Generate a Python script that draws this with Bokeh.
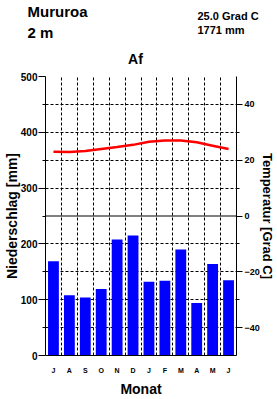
from bokeh.plotting import figure
from bokeh.models import Range1d, LinearAxis, FixedTicker, Span
from bokeh.layouts import column
from bokeh.core.properties import value
from bokeh.embed import file_html
from bokeh.resources import INLINE

months = ["J", "A", "S", "O", "N", "D", "J", "F", "M", "A", "M", "J"]
precip = [169, 108, 104, 119, 208, 215, 132, 134, 190, 94, 164, 135]
temp = [23.0, 22.9, 23.3, 24.0, 24.7, 25.5, 26.6, 27.1, 27.1, 26.4, 25.2, 24.0]
station = "Mururoa"
elevation = "2 m"
mean_temp_label = "25.0 Grad C"
total_precip_label = "1771 mm"
climate_class = "Af"
precip_ticks = [0, 100, 200, 300, 400, 500]
precip_minor = [50, 150, 250, 350, 450]
temp_ticks = [-40, -20, 0, 20, 40]
temp_minor = [-30, -10, 10, 30]
grid_lines = [50, 100, 150, 200, 300, 350, 400, 450, 500]
zero_temp_line = 250

FONT = "Liberation Sans"
W, H = 277, 399
HEAD = 66
L, R, T, B = 42, 41, 10, 43

xs = [i + 0.5 for i in range(len(months))]

# ---- header figure (texts placed in pixel coordinates) ----
h = figure(width=W, height=HEAD, output_backend="svg", toolbar_location=None,
           x_range=Range1d(0, W), y_range=Range1d(HEAD, 0), min_border=0)
h.axis.visible = False
h.grid.visible = False
h.outline_line_color = None
h.background_fill_color = "white"
h.border_fill_color = "white"
h.frame_width = W
h.frame_height = HEAD


def lab(text, X, Y, size, align="left"):
    h.text(x=[X], y=[Y], text=[text], text_font=value(FONT), text_font_size=size,
           text_font_style="bold", text_align=align, text_baseline="alphabetic",
           text_color="black")


lab(station, 27, 11, "15px")
lab(elevation, 27, 32, "15px")
lab(mean_temp_label, 197, 15, "11px")
lab(total_precip_label, 197, 29, "11px")
lab(climate_class, 135, 58, "14px", align="center")

# ---- main figure ----
p = figure(width=W, height=H - HEAD, output_backend="svg", toolbar_location=None,
           x_range=Range1d(0, 12), y_range=Range1d(0, 500),
           min_border_left=L, min_border_right=R, min_border_top=T, min_border_bottom=B)
p.outline_line_color = None
p.background_fill_color = "white"
p.border_fill_color = "white"

if "frame_align" in type(p).properties():
    p.frame_align = False
    h.frame_align = False

p.xgrid.ticker = FixedTicker(ticks=list(range(1, 12)))
p.xgrid.grid_line_color = "black"
p.xgrid.grid_line_dash = "3 2"
p.xgrid.grid_line_width = 1
p.ygrid.ticker = FixedTicker(ticks=grid_lines)
p.ygrid.grid_line_color = "black"
p.ygrid.grid_line_dash = "3 2"
p.ygrid.grid_line_width = 1
p.add_layout(Span(location=zero_temp_line, dimension="width", line_color="black", line_width=1))

p.vbar(x=xs, top=precip, bottom=0, width=0.68, fill_color="#0000FF", line_color=None)
p.extra_y_ranges = {"temp": Range1d(-50, 50)}
p.line(xs, temp, y_range_name="temp", line_color="#FF0000", line_width=2.5)


def style_axis(a, label_size="10px", title_size="14px"):
    a.axis_label_text_font = FONT
    a.axis_label_text_font_size = title_size
    a.axis_label_text_font_style = "bold"
    a.axis_label_text_color = "black"
    a.major_label_text_font = FONT
    a.major_label_text_font_size = label_size
    a.major_label_text_font_style = "bold"
    a.major_label_text_color = "black"
    a.axis_line_color = "black"
    a.major_tick_line_color = "black"
    a.minor_tick_line_color = "black"
    a.major_tick_in = 0
    a.minor_tick_in = 0


ya = p.yaxis[0]
ya.ticker = FixedTicker(ticks=precip_ticks, minor_ticks=precip_minor)
ya.axis_label = "Niederschlag [mm]"
style_axis(ya)
ya.axis_label_standoff = -2
ya.major_label_standoff = 1
ya.major_tick_out = 7
ya.minor_tick_out = 3

ra = LinearAxis(y_range_name="temp", ticker=FixedTicker(ticks=temp_ticks, minor_ticks=temp_minor))
ra.axis_label = "Temperatur [Grad C]"
style_axis(ra, label_size="9px", title_size="13px")
ra.axis_label_standoff = -3
ra.major_label_standoff = 2
ra.major_tick_out = 6
ra.minor_tick_out = 3
p.add_layout(ra, "right")

xa = p.xaxis[0]
xa.ticker = FixedTicker(ticks=xs, minor_ticks=[])
xa.major_label_overrides = {x: m for x, m in zip(xs, months)}
xa.axis_label = "Monat"
style_axis(xa, label_size="7px")
xa.major_tick_out = 0
xa.minor_tick_out = 0
xa.major_label_standoff = 11
xa.axis_label_standoff = 4

layout = column(h, p, spacing=0)
open("out.html", "w").write(file_html(layout, INLINE))
